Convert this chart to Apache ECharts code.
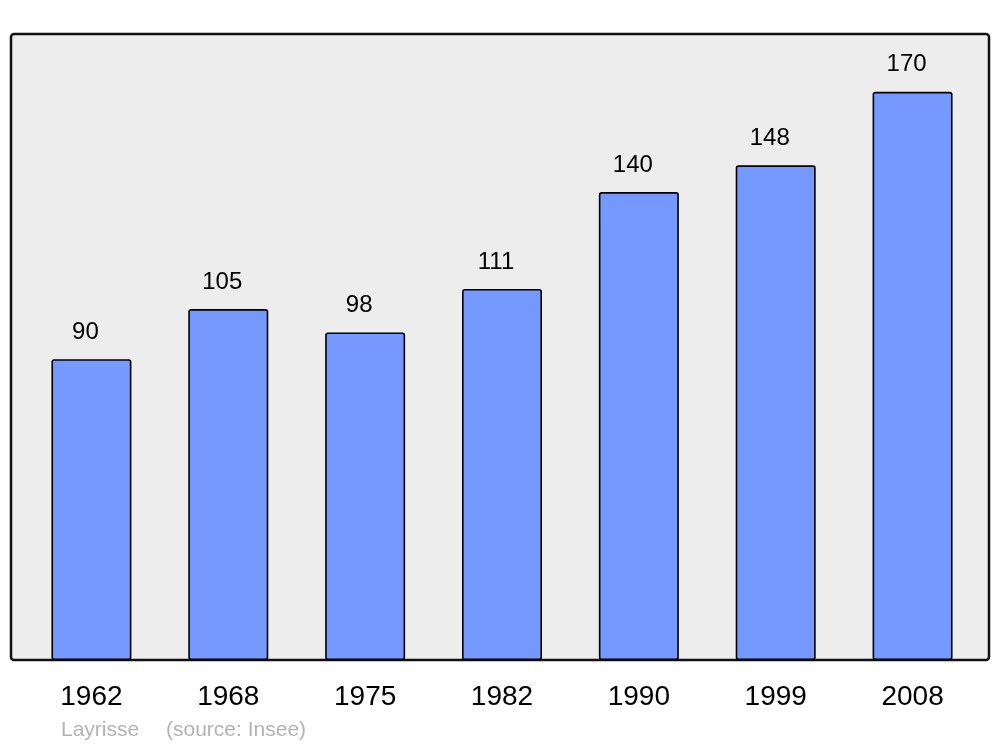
<!DOCTYPE html>
<html>
<head>
<meta charset="utf-8">
<script src="https://cdn.jsdelivr.net/npm/echarts@6/dist/echarts.min.js"></script>
<style>
  html, body { margin: 0; padding: 0; background: #fff; }
  #chart { width: 1000px; height: 747px; }
</style>
</head>
<body>
<div id="chart"></div>
<script>
// population par recensement
var years = ['1962', '1968', '1975', '1982', '1990', '1999', '2008'];
var population = [90, 105, 98, 111, 140, 148, 170];

var noteFont = '21px "Liberation Sans", Arial, sans-serif';

var chart = echarts.init(document.getElementById('chart'));
chart.setOption({
  animation: false,
  textStyle: { fontFamily: 'Liberation Sans, Arial, sans-serif' },
  graphic: [
    {
      type: 'rect',
      z: -10,
      shape: { x: 11, y: 34, width: 978, height: 626, r: 3 },
      style: { fill: '#ededed', stroke: '#111', lineWidth: 2.5 }
    },
    {
      type: 'text',
      left: 61,
      top: 720,
      style: { text: 'Layrisse', fill: '#b3b3b3', font: noteFont }
    },
    {
      type: 'text',
      left: 166,
      top: 720,
      style: { text: '(source: Insee)', fill: '#b3b3b3', font: noteFont }
    }
  ],
  grid: { left: 23, right: 19, top: 34, bottom: 87 },
  xAxis: {
    type: 'category',
    data: years,
    axisLine: { show: false },
    axisTick: { show: false },
    axisLabel: { color: '#000', fontSize: 28, margin: 23 }
  },
  yAxis: {
    type: 'value',
    min: 0,
    max: 187.3,
    show: false,
    splitLine: { show: false }
  },
  series: [{
    type: 'bar',
    data: population,
    barWidth: 80,
    itemStyle: {
      color: '#7599ff',
      borderColor: '#000',
      borderWidth: 1.6,
      borderRadius: 2
    },
    label: {
      show: true,
      position: 'top',
      distance: 15,
      offset: [-6, 0],
      color: '#000',
      fontSize: 24
    }
  }]
});
</script>
</body>
</html>
